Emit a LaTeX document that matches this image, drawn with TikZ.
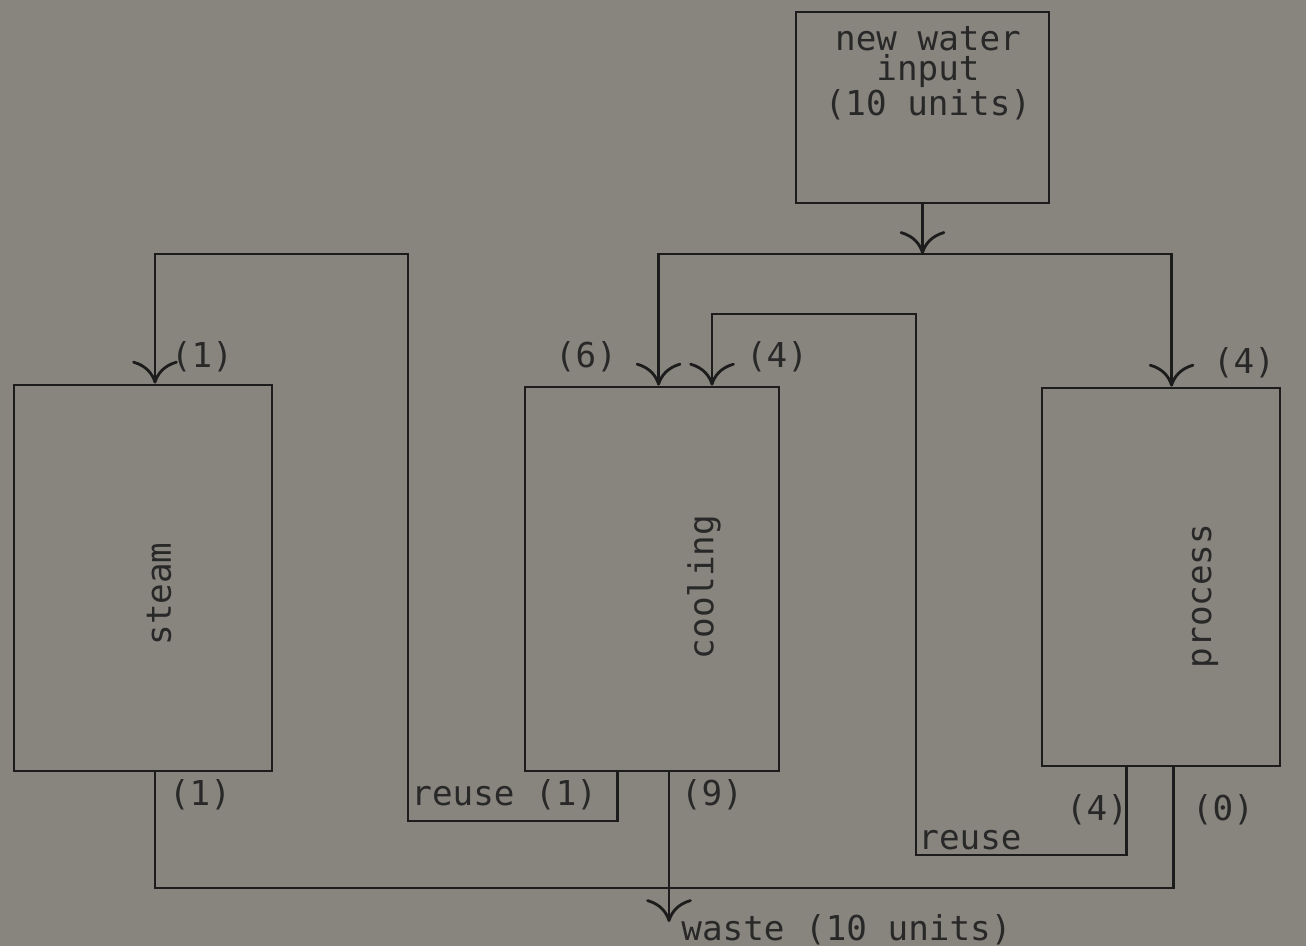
\documentclass[tikz,border=0pt]{standalone}
\usepackage{fontspec}
\setmonofont{DejaVu Sans Mono}
\usetikzlibrary{arrows.meta,calc,fit}
\definecolor{paper}{RGB}{136,133,126}
\definecolor{ink}{RGB}{28,28,28}
\definecolor{type}{RGB}{40,40,40}
\begin{document}
\begin{tikzpicture}[x=0.02cm, y=-0.02cm, line width=1.6pt, draw=ink,
  every node/.style={font=\ttfamily\fontsize{19.5}{17}\selectfont, text=type, inner sep=0pt},
  unit/.style={draw, inner sep=0pt},
  flow/.style={-{Computer Modern Rightarrow[length=13pt,width=26pt,line width=1.6pt]}}]
  \fill[paper] (0,0) rectangle (1306,946);
  \useasboundingbox (0,0) rectangle (1306,946);
  % boxes
  \node[unit, fit={(796,12) (1049,203)}] (input) {};
  \node[unit, fit={(14,385) (272,771)}] (steam) {};
  \node[unit, fit={(525,387) (779,771)}] (cooling) {};
  \node[unit, fit={(1042,388) (1280,766)}] (process) {};
  \node[align=center] (inputtxt) at (928,73) {new water\\input\\(10 units)};
  \node[rotate=90] (steamtxt) at (159,594) {steam};
  \node[rotate=90] (coolingtxt) at (704,587) {cooling};
  \node[rotate=90] (processtxt) at (1205,596) {process};
  % feed
  \coordinate (split) at (922.5,254);
  \draw[flow] (input.south) -- (split);
  \draw[flow] (split) -| ($(cooling.north west)+(135,0)$);
  \draw[flow] (split) -| ($(process.north west)+(131,0)$);
  % reuse steam -> from cooling
  \coordinate (loops) at (408,821);
  \coordinate (tops) at (155,254);
  \draw[flow] ($(cooling.south west)+(94,0)$) |- (loops) |- (tops) -- (tops |- steam.north);
  % reuse cooling -> from process
  \coordinate (loopc) at (916,855);
  \coordinate (topc) at (712,314);
  \draw[flow] ($(process.south west)+(86,0)$) |- (loopc) |- (topc) -- (topc |- cooling.north);
  % waste
  \coordinate (sout) at (155,771);
  \coordinate (bus) at (669,888);
  \coordinate (wastetip) at (669,922);
  \draw (sout) |- (bus) -| ($(process.south west)+(133,0)$);
  \draw[flow] (wastetip |- cooling.south) -- (wastetip);
  % flow labels
  \node (qsin) at (202,357) {(1)};
  \node (qcin) at (586,357) {(6)};
  \node (qcre) at (777,357) {(4)};
  \node (qpin) at (1244,363) {(4)};
  \node (qsout) at (200,795) {(1)};
  \node[anchor=west] (reusea) at (410,795) {reuse (1)};
  \node (qcout) at (712,795) {(9)};
  \node (qpre) at (1097,810) {(4)};
  \node (qpout) at (1223,810) {(0)};
  \node[anchor=base west] (reuseb) at (917,849) {reuse};
  \node[anchor=base west] (waste) at (680,940) {waste (10 units)};
\end{tikzpicture}
\end{document}
